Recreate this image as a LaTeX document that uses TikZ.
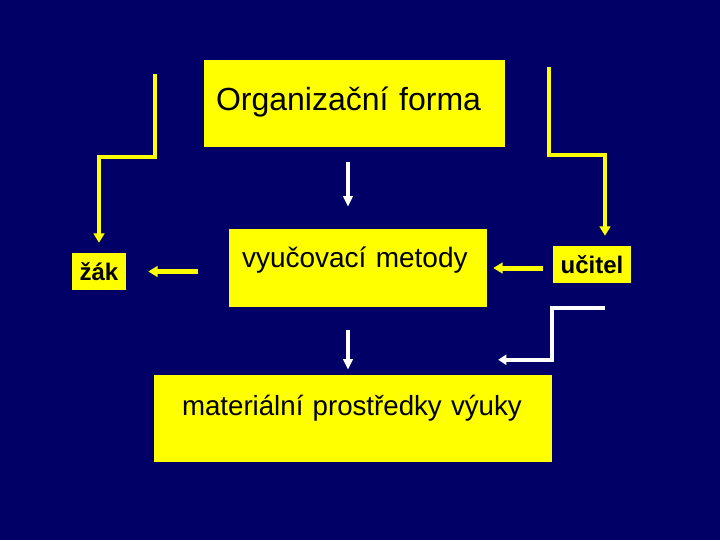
\documentclass[tikz,border=0pt]{standalone}
\usepackage{fontspec}
\setmainfont{Liberation Sans}
\usetikzlibrary{arrows.meta}
\definecolor{navy}{RGB}{0,0,102}
\definecolor{boxyellow}{RGB}{255,255,0}

\begin{document}
\begin{tikzpicture}[x=0.75pt, y=-0.75pt,
    box/.style={fill=boxyellow, inner ysep=0pt, align=left, font=\fontsize{24}{28}\selectfont},
    tag/.style={fill=boxyellow, inner sep=0pt, font=\fontsize{18}{21}\selectfont\bfseries},
    yarrow/.style={draw=boxyellow, line width=3pt, -{Triangle[width=8pt,length=7pt]}},
    warrow/.style={draw=white, line width=3pt, -{Triangle[width=7pt,length=8pt]}}]
            \fill[navy] (0,0) rectangle (720,540);

            \node [box, inner xsep=9pt, text width=207.75pt, text height=37.5pt, text depth=27.75pt] (forma) at (354.5,103.5) {Organizační forma};
            \node [box, font=\fontsize{21}{25}\selectfont, inner xsep=9.75pt, text width=174pt, text height=28.5pt, text depth=30pt] (metody) at (358,268) {vyučovací metody};
            \node [box, font=\fontsize{20.75}{25}\selectfont, inner xsep=21pt, text width=256.5pt, text height=30pt, text depth=35.25pt] (prostredky) at (353,418.5) {materiální prostředky výuky};

            \node [tag, minimum width=40.5pt, minimum height=27.75pt] (zak) at (99,271.5) {žák};
            \node [tag, minimum width=58.5pt, minimum height=27.75pt] (ucitel) at (592,264.5) {učitel};

            \coordinate (zakin) at (155,74);
            \coordinate (ucitin) at (549,67);
            \coordinate (matin) at (605,308);
            \coordinate (matout) at ([xshift=-40.5pt,yshift=11.25pt]prostredky.north east);

            \draw[yarrow, shorten >=7.5pt] (zakin) -- (zakin |- 0,157) -| (zak.north);
            \draw[yarrow, shorten >=7.5pt] (ucitin) -- (ucitin |- 0,155) -| ([xshift=9.75pt]ucitel.north);
            \draw[yarrow, line width=3.75pt, shorten <=23.25pt, shorten >=16.5pt] (metody.west |- zak.east) -- (zak.east);
            \draw[yarrow, line width=3.75pt, shorten <=7.5pt, shorten >=4.5pt] (ucitel.west |- metody.east) -- (metody.east);

            \draw[warrow, shorten <=11.25pt, shorten >=16.5pt] ([xshift=-4.9pt]forma.south) -- ([xshift=-4.9pt]forma.south |- metody.north);
            \draw[warrow, shorten <=17.25pt, shorten >=3.75pt] ([xshift=-7.5pt]metody.south) -- ([xshift=-7.5pt]metody.south |- prostredky.north);
            \draw[warrow, -{Triangle[width=7.5pt,length=6pt]}] (matin) -| ([yshift=11.25pt]prostredky.north east) -- (matout);
        \end{tikzpicture}
\end{document}
